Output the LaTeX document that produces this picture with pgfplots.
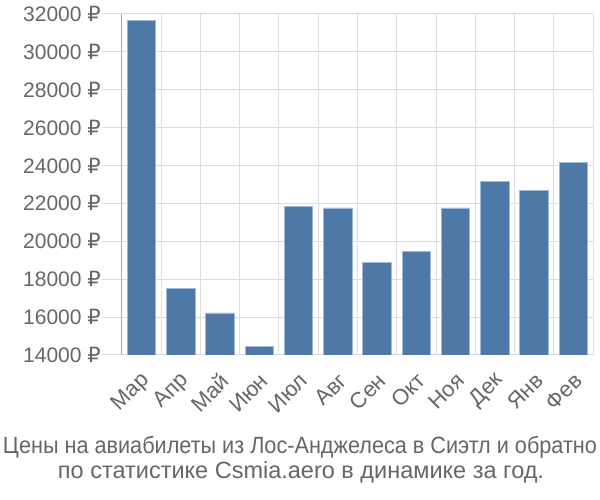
\documentclass[border=0pt]{standalone}
\usepackage{fontspec}
\setmainfont{Liberation Sans}
\newfontfamily\rub{DejaVu Sans}
\usepackage{pgfplots}
\pgfplotsset{compat=1.18}
\definecolor{barblue}{RGB}{78,121,167}
\definecolor{baredge}{RGB}{160,185,215}
\definecolor{txt}{RGB}{102,102,102}
\definecolor{gridc}{RGB}{221,221,221}
\definecolor{axc}{RGB}{170,170,170}
\begin{document}
\begin{tikzpicture}
\useasboundingbox (-122pt,-145pt) rectangle (478pt,355pt);
\begin{axis}[
  at={(0pt,0pt)}, anchor=south west,
  width=471pt, height=341pt, scale only axis,
  ymin=14000, ymax=32000,
  xmin=-0.5, xmax=11.5,
  scaled y ticks=false,
  ytick={14000,16000,...,32000},
  xtick={0,...,11},
  xticklabels={Мар,Апр,Май,Июн,Июл,Авг,Сен,Окт,Ноя,Дек,Янв,Фев},
  minor xtick={-0.5,0.5,...,11.5},
  xmajorgrids=false, ymajorgrids=true, xminorgrids=true,
  grid style={gridc, line width=1pt},
  minor grid style={gridc, line width=1pt},
  tick align=outside,
  major tick length=20pt, minor tick length=18pt,
  xtick style={draw=none},
  minor x tick style={gridc, line width=1pt},
  ytick style={gridc, line width=1pt},
  axis x line*=bottom, axis y line*=left,
  x axis line style={gridc, line width=1pt, -},
  y axis line style={axc, line width=1pt, -},
  /pgf/number format/assume math mode=true,
  yticklabel={\pgfmathprintnumber[fixed,precision=0,1000 sep={}]{\tick}~{\rub ₽}},
  yticklabel style={font=\fontsize{21}{24}\selectfont, text=txt, xshift=0pt},
  xticklabel style={font=\fontsize{22}{24}\selectfont, text=txt, rotate=45, anchor=east, yshift=-5pt, xshift=3pt},
  tick label style={inner sep=1pt},
  ybar, bar width=28.5pt,
]
\addplot[fill=barblue, draw=baredge, line width=0.8pt] coordinates {
(0,31680) (1,17520) (2,16220) (3,14460) (4,21850) (5,21760)
(6,18890) (7,19450) (8,21760) (9,23150) (10,22690) (11,24170)};
\end{axis}
\node[text=txt, font=\fontsize{23.5}{26}\selectfont, inner sep=0pt] at (178pt,-92pt) {\resizebox{594pt}{\height}{Цены на авиабилеты из Лос-Анджелеса в Сиэтл и обратно}};
\node[text=txt, font=\fontsize{23.5}{26}\selectfont, inner sep=0pt] at (179pt,-117pt) {по статистике Csmia.aero в динамике за год.};
\end{tikzpicture}
\end{document}
